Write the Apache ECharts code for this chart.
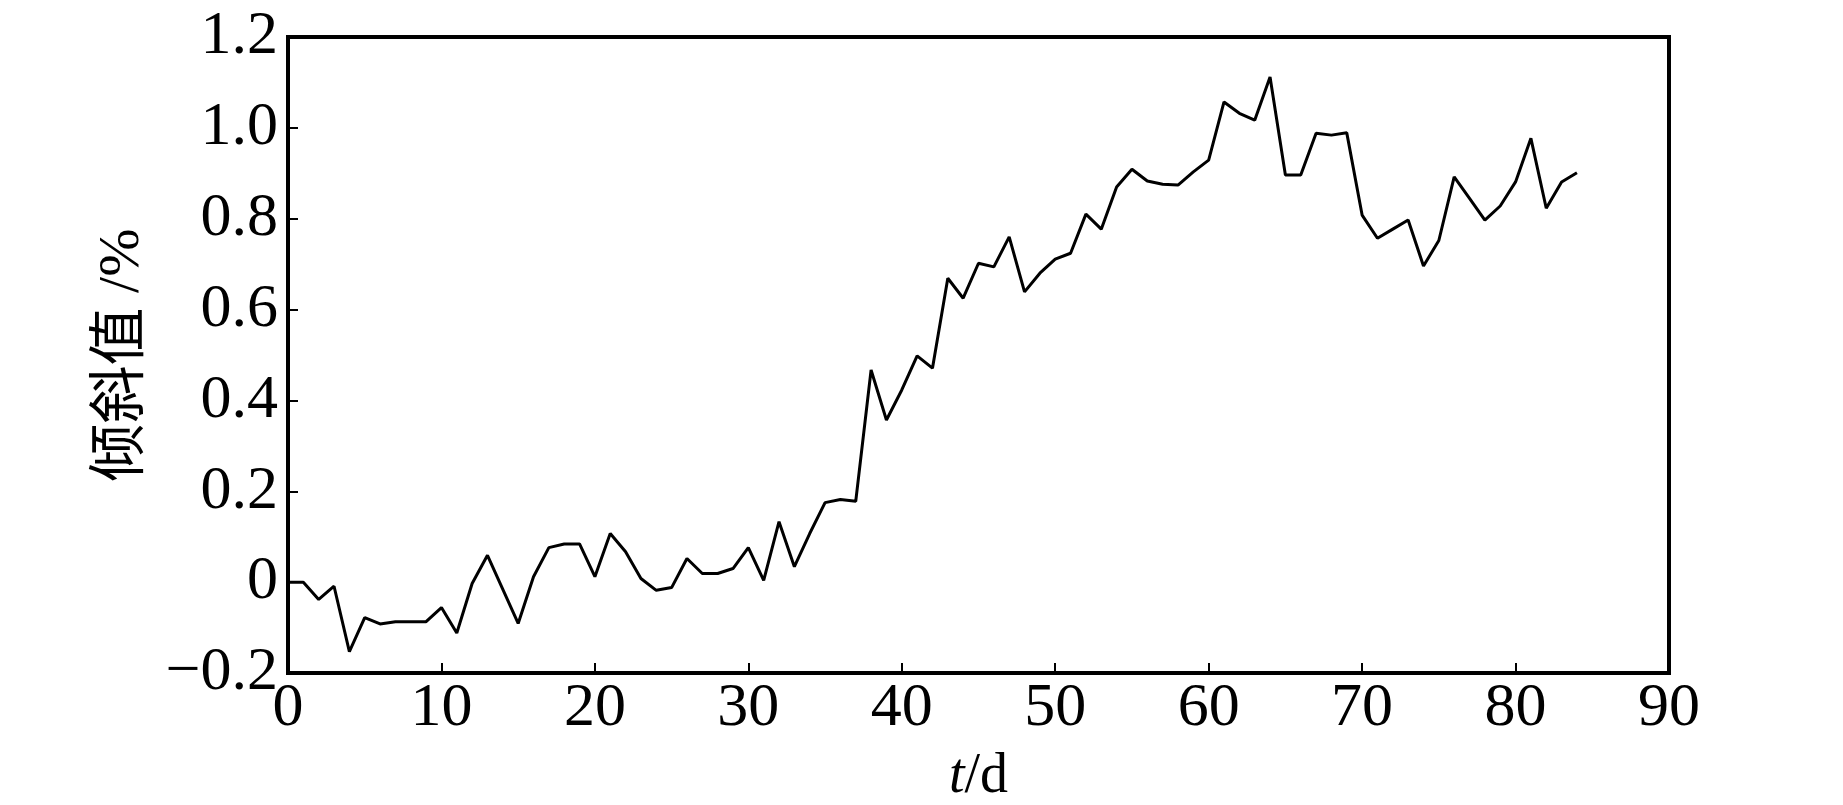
<!DOCTYPE html>
<html>
<head>
<meta charset="utf-8">
<title>倾斜值</title>
<script src="https://cdn.jsdelivr.net/npm/echarts@6/dist/echarts.min.js"></script>
<style>
  html, body { margin: 0; padding: 0; background: #fff; }
  #main { width: 1843px; height: 805px; }
</style>
</head>
<body>
<div id="main"></div>
<script>
// 时间 t/d
var days = [];
for (var d = 0; d <= 84; d++) days.push(d);

// 倾斜值 /%
var tiltValues = [
  0, 0, -0.038, -0.009, -0.153, -0.078, -0.092, -0.087, -0.087, -0.087,
  -0.056, -0.112, -0.003, 0.059, -0.016, -0.091, 0.012, 0.076, 0.084, 0.084,
  0.012, 0.107, 0.067, 0.008, -0.018, -0.012, 0.052, 0.019, 0.019, 0.030,
  0.076, 0.004, 0.133, 0.034, 0.107, 0.175, 0.182, 0.178, 0.467, 0.357,
  0.423, 0.498, 0.471, 0.669, 0.625, 0.702, 0.694, 0.760, 0.639, 0.680,
  0.711, 0.724, 0.810, 0.777, 0.870, 0.909, 0.883, 0.876, 0.874, 0.903,
  0.929, 1.057, 1.032, 1.017, 1.112, 0.896, 0.896, 0.988, 0.984, 0.989,
  0.808, 0.757, 0.777, 0.797, 0.696, 0.752, 0.892, 0.845, 0.797, 0.828,
  0.881, 0.977, 0.823, 0.881, 0.901
];

var lineData = [];
for (var i = 0; i < days.length; i++) {
  lineData.push([days[i], tiltValues[i]]);
}

var serif = "'Liberation Serif', 'Times New Roman', 'Noto Sans CJK SC', serif";

var chart = echarts.init(document.getElementById("main"));
chart.setOption({
  backgroundColor: "#fff",
  animation: false,
  grid: {
    left: 288,
    right: 174,
    top: 37,
    bottom: 132,
    outerBoundsMode: "none",
    containLabel: false,
    show: true,
    borderColor: "#000",
    borderWidth: 4
  },
  xAxis: {
    type: "value",
    min: 0,
    max: 90,
    interval: 10,
    name: "{i|t}/d",
    nameLocation: "middle",
    nameGap: 76,
    nameTextStyle: {
      fontFamily: serif,
      fontSize: 56,
      color: "#000",
      rich: {
        i: { fontFamily: serif, fontSize: 56, fontStyle: "italic", color: "#000" }
      }
    },
    axisLine: { show: true, onZero: false, lineStyle: { color: "#000", width: 4 } },
    axisTick: { show: true, inside: true, length: 10, lineStyle: { color: "#000", width: 2 } },
    splitLine: { show: false },
    axisLabel: {
      margin: 5,
      fontFamily: serif,
      fontSize: 62,
      color: "#000"
    }
  },
  yAxis: {
    type: "value",
    min: -0.2,
    max: 1.2,
    interval: 0.2,
    name: "倾斜值 /%",
    nameLocation: "middle",
    nameRotate: 90,
    nameGap: 136,
    nameTextStyle: {
      fontFamily: serif,
      fontSize: 58,
      color: "#000"
    },
    axisLine: { show: true, onZero: false, lineStyle: { color: "#000", width: 4 } },
    axisTick: { show: true, inside: true, length: 10, lineStyle: { color: "#000", width: 2 } },
    splitLine: { show: false },
    axisLabel: {
      margin: 10,
      fontFamily: serif,
      fontSize: 62,
      color: "#000",
      formatter: function (v) {
        if (Math.abs(v) < 1e-9) return "0";
        return v.toFixed(1).replace("-", "\u2212");
      }
    }
  },
  series: [
    {
      type: "line",
      data: lineData,
      showSymbol: false,
      symbol: "none",
      lineStyle: { color: "#000", width: 3 },
      z: 3
    }
  ]
});
</script>
</body>
</html>
